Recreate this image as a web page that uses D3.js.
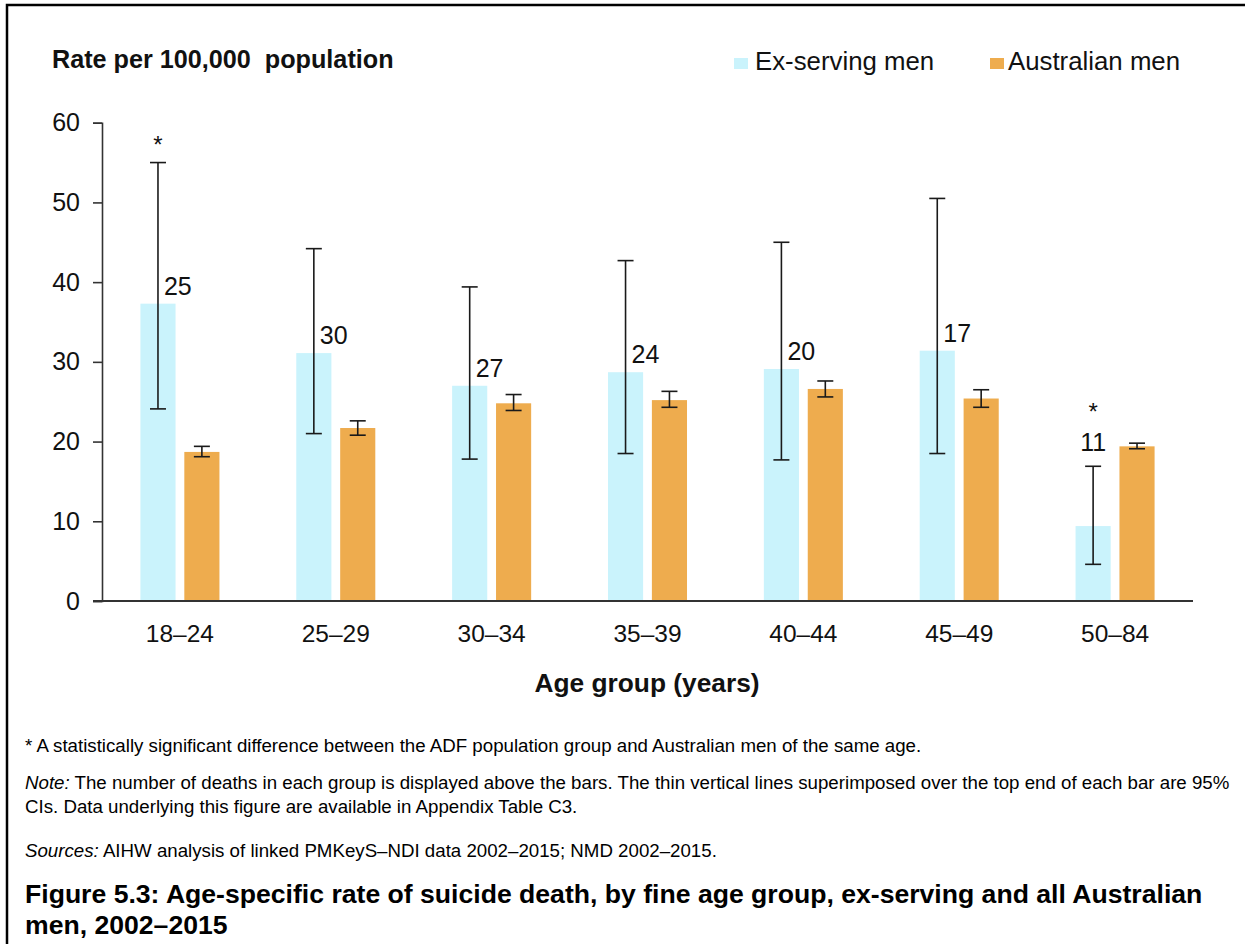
<!DOCTYPE html>
<html>
<head>
<meta charset="utf-8">
<script src="https://cdn.jsdelivr.net/npm/d3@7"></script>
<style>
  html, body { margin: 0; padding: 0; background: #fff; }
  svg { display: block; font-family: "Liberation Sans", Arial, sans-serif; }
  text { white-space: pre; }
</style>
</head>
<body>
<svg id="chart" width="1245" height="944"></svg>
<script>
// ---- Data ----
const categories = ["18–24", "25–29", "30–34", "35–39", "40–44", "45–49", "50–84"];
const seriesNames = ["Ex-serving men", "Australian men"];
const exServing = [37.3, 31.1, 27.0, 28.7, 29.1, 31.4, 9.4];
const exServingLow = [24.1, 21.0, 17.8, 18.5, 17.7, 18.5, 4.6];
const exServingHigh = [55.0, 44.2, 39.4, 42.7, 45.0, 50.5, 16.9];
const australian = [18.7, 21.7, 24.8, 25.2, 26.6, 25.4, 19.4];
const australianLow = [18.1, 20.8, 23.9, 24.3, 25.6, 24.3, 19.1];
const australianHigh = [19.4, 22.6, 25.9, 26.3, 27.6, 26.5, 19.8];
const deaths = [25, 30, 27, 24, 20, 17, 11];
const significant = [true, false, false, false, false, false, true];
const yTicks = [0, 10, 20, 30, 40, 50, 60];

const colors = { "Ex-serving men": "#CAF3FC", "Australian men": "#EEAC4E" };

// ---- Layout ----
const svg = d3.select("#chart");
const plotLeft = 102, plotRight = 1193, plotTop = 122.7, plotBottom = 601;

const x0 = d3.scaleBand().domain(categories).range([plotLeft, plotRight]).padding(0);
const x1 = d3.scaleBand().domain(seriesNames).range([0, x0.bandwidth()])
  .paddingInner(0.2).paddingOuter(0.875);
const y = d3.scaleLinear().domain([0, 60]).range([plotBottom, plotTop]);

// frame
svg.append("rect").attr("x", 7).attr("y", 5).attr("width", 1260).attr("height", 960)
  .attr("fill", "none").attr("stroke", "#000").attr("stroke-width", 2.5);

// title
svg.append("text").attr("x", 52).attr("y", 68)
  .attr("font-size", 25.2).attr("font-weight", "bold").attr("fill", "#111")
  .text("Rate per 100,000  population");

// legend
const legendPos = [{ sx: 734, tx: 755 }, { sx: 990, tx: 1008 }];
seriesNames.forEach((s, i) => {
  svg.append("rect").attr("x", legendPos[i].sx).attr("y", 58).attr("width", 14).attr("height", 11)
    .attr("fill", colors[s]);
  svg.append("text").attr("x", legendPos[i].tx).attr("y", 70)
    .attr("font-size", 25.8).attr("fill", "#111").text(s);
});

// y axis
const yAxis = d3.axisLeft(y).tickValues(yTicks).tickSize(9).tickPadding(13);
const gy = svg.append("g").attr("transform", `translate(${plotLeft},0)`).call(yAxis);
gy.select(".domain").attr("stroke", "#333").attr("stroke-width", 1.6);
gy.selectAll(".tick line").attr("stroke", "#333").attr("stroke-width", 1.6);
gy.selectAll(".tick text").attr("font-size", 25).attr("fill", "#111")
  .attr("font-family", "Liberation Sans, Arial, sans-serif");

// bars
const rows = categories.map((c, i) => ({
  cat: c, i,
  vals: [
    { s: seriesNames[0], v: exServing[i], lo: exServingLow[i], hi: exServingHigh[i] },
    { s: seriesNames[1], v: australian[i], lo: australianLow[i], hi: australianHigh[i] }
  ]
}));

const groups = svg.append("g").selectAll("g").data(rows).join("g")
  .attr("transform", d => `translate(${x0(d.cat)},0)`);

groups.selectAll("rect").data(d => d.vals).join("rect")
  .attr("x", d => x1(d.s)).attr("width", x1.bandwidth())
  .attr("y", d => y(d.v)).attr("height", d => y(0) - y(d.v))
  .attr("fill", d => colors[d.s]);

// error bars
const capW = 16;
groups.each(function (d) {
  const g = d3.select(this);
  d.vals.forEach(v => {
    const cx = x1(v.s) + x1.bandwidth() / 2;
    const eg = g.append("g").attr("stroke", "#1a1a1a").attr("stroke-width", 1.6);
    eg.append("line").attr("x1", cx).attr("x2", cx).attr("y1", y(v.hi)).attr("y2", y(v.lo));
    eg.append("line").attr("x1", cx - capW / 2).attr("x2", cx + capW / 2).attr("y1", y(v.hi)).attr("y2", y(v.hi));
    eg.append("line").attr("x1", cx - capW / 2).attr("x2", cx + capW / 2).attr("y1", y(v.lo)).attr("y2", y(v.lo));
  });
  // death count label + significance marker
  const ex = d.vals[0];
  const cx = x1(ex.s) + x1.bandwidth() / 2;
  const labelAbove = ex.v < 15;
  let labelY;
  if (labelAbove) {
    labelY = y(ex.hi) - 15;
    g.append("text").attr("x", cx).attr("y", labelY).attr("text-anchor", "middle")
      .attr("font-size", 25).attr("fill", "#111").text(deaths[d.i]);
  } else {
    labelY = y(ex.v) - 9;
    g.append("text").attr("x", cx + 6).attr("y", labelY)
      .attr("font-size", 25).attr("fill", "#111").text(deaths[d.i]);
  }
  if (significant[d.i]) {
    const sy = labelAbove ? labelY - 31 : y(ex.hi) - 10;
    g.append("text").attr("x", cx).attr("y", sy).attr("text-anchor", "middle")
      .attr("font-size", 24).attr("fill", "#111").text("*");
  }
});

// x axis line
svg.append("line").attr("x1", 93).attr("x2", plotRight).attr("y1", y(0)).attr("y2", y(0))
  .attr("stroke", "#333").attr("stroke-width", 1.8);

// x labels
svg.append("g").selectAll("text").data(categories).join("text")
  .attr("x", d => x0(d) + x0.bandwidth() / 2).attr("y", 642)
  .attr("text-anchor", "middle").attr("font-size", 24.5).attr("fill", "#111").text(d => d);

// x axis title
svg.append("text").attr("x", 647).attr("y", 692).attr("text-anchor", "middle")
  .attr("font-size", 26.3).attr("font-weight", "bold").attr("fill", "#111").text("Age group (years)");

// notes
const noteSize = 18.7;
svg.append("text").attr("x", 25).attr("y", 752).attr("font-size", noteSize).attr("fill", "#000")
  .text("* A statistically significant difference between the ADF population group and Australian men of the same age.");
const n1 = svg.append("text").attr("x", 25).attr("y", 789).attr("font-size", noteSize).attr("fill", "#000");
n1.append("tspan").attr("font-style", "italic").text("Note:");
n1.append("tspan").text(" The number of deaths in each group is displayed above the bars. The thin vertical lines superimposed over the top end of each bar are 95%");
svg.append("text").attr("x", 25).attr("y", 813).attr("font-size", noteSize).attr("fill", "#000")
  .text("CIs. Data underlying this figure are available in Appendix Table C3.");
const s1 = svg.append("text").attr("x", 25).attr("y", 857).attr("font-size", noteSize).attr("fill", "#000");
s1.append("tspan").attr("font-style", "italic").text("Sources:");
s1.append("tspan").text(" AIHW analysis of linked PMKeyS–NDI data 2002–2015; NMD 2002–2015.");

// caption
const capSize = 26.6;
svg.append("text").attr("x", 25).attr("y", 903).attr("font-size", capSize).attr("font-weight", "bold").attr("fill", "#000")
  .text("Figure 5.3: Age-specific rate of suicide death, by fine age group, ex-serving and all Australian");
svg.append("text").attr("x", 25).attr("y", 934).attr("font-size", capSize).attr("font-weight", "bold").attr("fill", "#000")
  .text("men, 2002–2015");
</script>
</body>
</html>
